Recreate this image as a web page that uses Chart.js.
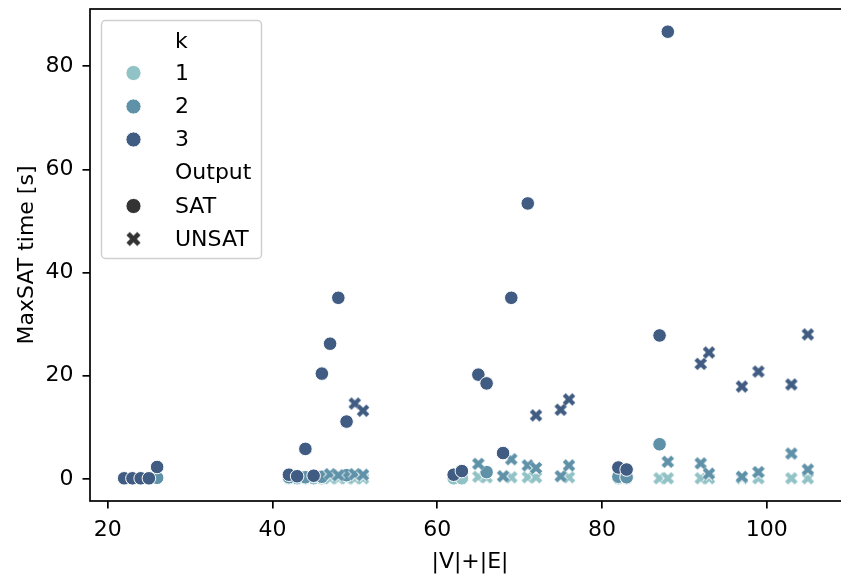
<!DOCTYPE html>
<html>
<head>
<meta charset="utf-8">
<script src="https://cdn.jsdelivr.net/npm/chart.js@4/dist/chart.umd.min.js"></script>
<style>
  html, body { margin: 0; padding: 0; background: #fff; overflow: hidden; }
  #wrap { width: 850px; height: 574px; }
</style>
</head>
<body>
<div id="wrap"><canvas id="scatter" width="850" height="574"></canvas></div>
<script>
// ===== data (|V|+|E| vs MaxSAT time) =====
const xTickVals = [20, 40, 60, 80, 100];
const yTickVals = [0, 20, 40, 60, 80];

// k = 1
const k1SatX = [42, 43, 44, 45, 46, 62, 63, 82, 83];
const k1SatY = [0.1, 0.1, 0.1, 0.1, 0.1, 0.1, 0.1, 0.1, 0.1];
const k1UnsatX = [47, 48, 49, 50, 51, 65, 66, 69, 71, 72, 76, 87, 88, 92, 93, 97, 99, 103, 105];
const k1UnsatY = [0.1, 0.1, 0.1, 0.1, 0.1, 0.4, 0.3, 0.3, 0.3, 0.3, 0.3, 0.1, 0.1, 0.1, 0.1, 0.1, 0.1, 0.1, 0.1];

// k = 2
const k2SatX = [26, 42, 44, 46, 49, 66, 82, 83, 87];
const k2SatY = [0.2, 0.3, 0.3, 0.4, 0.7, 1.3, 0.4, 0.3, 6.7];
const k2UnsatX = [47, 48, 50, 51, 65, 68, 69, 71, 72, 75, 76, 88, 92, 93, 97, 99, 103, 105];
const k2UnsatY = [0.9, 0.7, 0.9, 0.8, 2.9, 0.5, 3.8, 2.6, 2.1, 0.5, 2.6, 3.3, 3.0, 1.0, 0.4, 1.3, 4.9, 1.8];

// k = 3
const k3SatX = [22, 23, 24, 25, 26, 42, 43, 44, 45, 46, 47, 48, 49, 62, 63, 65, 66, 68, 69, 71, 82, 83, 87, 88];
const k3SatY = [0.1, 0.1, 0.1, 0.1, 2.3, 0.8, 0.5, 5.8, 0.6, 20.4, 26.2, 35.1, 11.1, 0.8, 1.5, 20.2, 18.5, 5.0, 35.1, 53.4, 2.2, 1.8, 27.8, 86.7];
const k3UnsatX = [50, 51, 72, 75, 76, 92, 93, 97, 99, 103, 105];
const k3UnsatY = [14.6, 13.2, 12.3, 13.4, 15.4, 22.3, 24.5, 17.9, 20.8, 18.3, 28.0];

const kColors = ["#91c2c6", "#5f92a8", "#405c82"];
const FONT = "'DejaVu Sans', sans-serif";

// filled X marker with white edge (matplotlib "X")
function makeCross(color, half, thick) {
  const size = Math.ceil(half * 2 + 8);
  const c = document.createElement("canvas");
  c.width = size; c.height = size;
  const g = c.getContext("2d");
  const m = size / 2;
  const d = half;
  function strokeX(w, col) {
    g.strokeStyle = col;
    g.lineWidth = w;
    g.lineCap = "butt";
    g.beginPath();
    g.moveTo(m - d, m - d); g.lineTo(m + d, m + d);
    g.moveTo(m + d, m - d); g.lineTo(m - d, m + d);
    g.stroke();
  }
  strokeX(thick + 1.6, "#ffffff");
  strokeX(thick, color);
  return c;
}

function pts(xs, ys) {
  return xs.map((x, i) => ({ x: x, y: ys[i] }));
}

function satSet(xs, ys, color, order) {
  return {
    data: pts(xs, ys),
    pointStyle: "circle",
    pointRadius: 6.8,
    backgroundColor: color,
    borderColor: "#ffffff",
    borderWidth: 1,
    order: order
  };
}

function unsatSet(xs, ys, color, order) {
  return {
    data: pts(xs, ys),
    pointStyle: makeCross(color, 4.8, 4.3),
    pointRadius: 7,
    backgroundColor: color,
    borderColor: color,
    order: order
  };
}

// ================= FRAME + LEGEND + TITLES =================
const decoPlugin = {
  id: "deco",
  afterDraw(chart) {
    const ctx = chart.ctx;
    const a = chart.chartArea;
    ctx.save();

    // spines
    ctx.strokeStyle = "#000";
    ctx.lineWidth = 1.7;
    ctx.strokeRect(a.left, a.top, a.right - a.left, a.bottom - a.top);

    // axis titles
    ctx.fillStyle = "#000";
    ctx.font = "22px " + FONT;
    ctx.textAlign = "center";
    ctx.textBaseline = "alphabetic";
    ctx.fillText("|V|+|E|", 470, 568);
    ctx.save();
    ctx.translate(33, 255);
    ctx.rotate(-Math.PI / 2);
    ctx.fillText("MaxSAT time [s]", 0, 0);
    ctx.restore();

    // legend box
    ctx.beginPath();
    ctx.roundRect(101.5, 20.5, 160, 238, 4);
    ctx.fillStyle = "rgba(255,255,255,0.8)";
    ctx.fill();
    ctx.strokeStyle = "#d0d0d0";
    ctx.lineWidth = 1.5;
    ctx.stroke();

    const rows = [
      { label: "k", y: 41 },
      { label: "1", y: 73, color: kColors[0], m: "o" },
      { label: "2", y: 106.5, color: kColors[1], m: "o" },
      { label: "3", y: 139.5, color: kColors[2], m: "o" },
      { label: "Output", y: 172.5 },
      { label: "SAT", y: 206, color: "#333333", m: "o" },
      { label: "UNSAT", y: 239, color: "#333333", m: "x" }
    ];
    ctx.textAlign = "left";
    ctx.textBaseline = "middle";
    rows.forEach(r => {
      if (r.m === "o") {
        ctx.beginPath();
        ctx.arc(133.5, r.y, 7.6, 0, Math.PI * 2);
        ctx.fillStyle = r.color;
        ctx.fill();
        ctx.strokeStyle = "#fff";
        ctx.lineWidth = 1;
        ctx.stroke();
      } else if (r.m === "x") {
        const img = makeCross(r.color, 5.4, 4.8);
        ctx.drawImage(img, 133.5 - img.width / 2, r.y - img.height / 2);
      }
      ctx.fillStyle = "#000";
      ctx.fillText(r.label, 175, r.y + 1);
    });

    ctx.restore();
  }
};

function noPad(s) {
  s.paddingTop = 0; s.paddingBottom = 0;
  s.paddingLeft = 0; s.paddingRight = 0;
}

// ================= CHART =================
const ctx = document.getElementById("scatter").getContext("2d");

new Chart(ctx, {
  type: "scatter",
  data: {
    datasets: [
      satSet(k1SatX, k1SatY, kColors[0], 6),
      unsatSet(k1UnsatX, k1UnsatY, kColors[0], 5),
      satSet(k2SatX, k2SatY, kColors[1], 4),
      unsatSet(k2UnsatX, k2UnsatY, kColors[1], 3),
      satSet(k3SatX, k3SatY, kColors[2], 2),
      unsatSet(k3UnsatX, k3UnsatY, kColors[2], 1)
    ]
  },
  options: {
    responsive: false,
    animation: false,
    events: [],
    layout: { padding: { top: 9, right: 2, left: 0, bottom: 0 } },
    plugins: { legend: { display: false }, tooltip: { enabled: false } },
    scales: {
      x: {
        type: "linear",
        min: 17.85,
        max: 109.15,
        afterFit: s => { s.height = 73; noPad(s); },
        afterBuildTicks: s => { s.ticks = xTickVals.map(v => ({ value: v })); },
        border: { display: false },
        grid: { drawOnChartArea: false, tickLength: 7.5, tickColor: "#000", lineWidth: 1.7 },
        ticks: {
          padding: 9,
          color: "#000",
          font: { family: FONT, size: 22 },
          maxRotation: 0,
          callback: v => String(v)
        }
      },
      y: {
        type: "linear",
        min: -4.3,
        max: 91.1,
        afterFit: s => { s.width = 90; noPad(s); },
        afterBuildTicks: s => { s.ticks = yTickVals.map(v => ({ value: v })); },
        border: { display: false },
        grid: { drawOnChartArea: false, tickLength: 7.5, tickColor: "#000", lineWidth: 1.7 },
        ticks: {
          padding: 9,
          color: "#000",
          font: { family: FONT, size: 22 },
          callback: v => String(v)
        }
      }
    }
  },
  plugins: [decoPlugin]
});
</script>
</body>
</html>
